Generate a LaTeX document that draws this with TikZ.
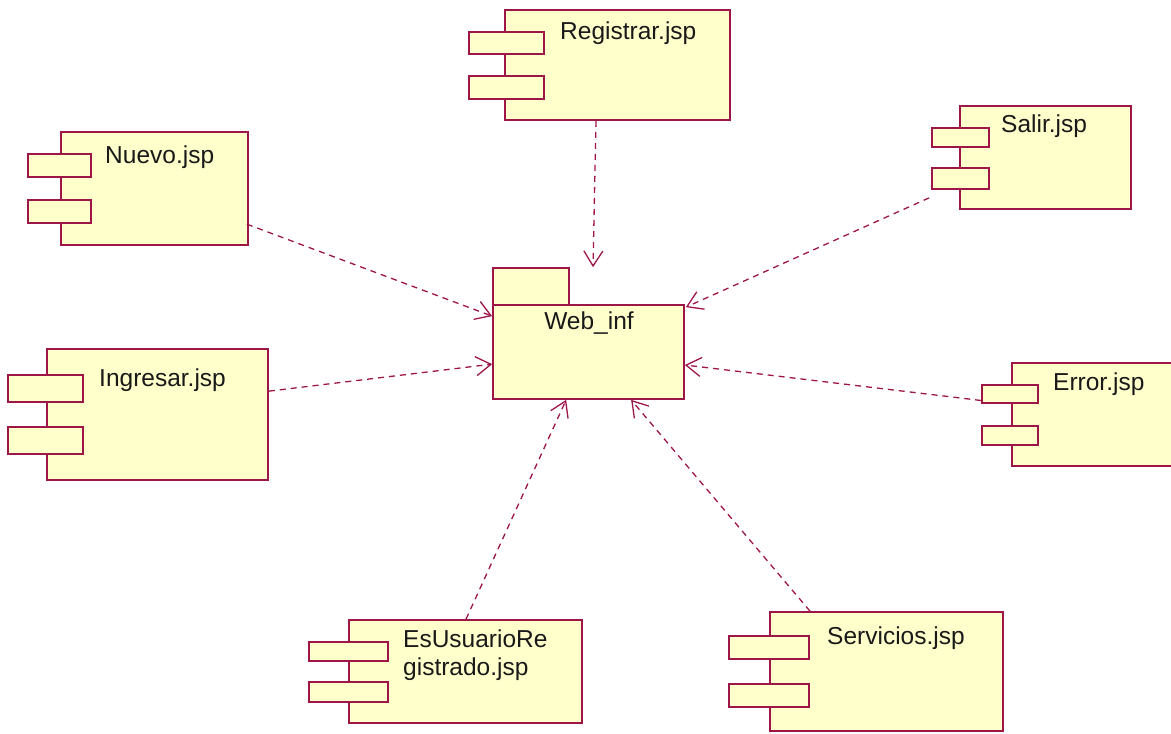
\documentclass[tikz,border=0pt]{standalone}
\usepackage{fontspec}
\setmainfont{Liberation Sans}
\usetikzlibrary{arrows.meta,calc}
\definecolor{rosered}{RGB}{158,22,72}
\definecolor{roseyellow}{RGB}{255,255,204}
\definecolor{inkc}{RGB}{25,25,25}
\tikzset{
  compbox/.style={draw=rosered, fill=roseyellow, line width=1.7pt, inner sep=0pt},
  port/.style={draw=rosered, fill=roseyellow, line width=1.7pt},
  lbl/.style={text=inkc, inner sep=0pt, font=\fontsize{24.5}{29}\selectfont},
  dep/.style={draw=rosered, line width=1.3pt, dash pattern=on 6pt off 5pt,
    -{Straight Barb[length=15pt,width=19pt,line width=1.3pt]}},
}
\begin{document}
\begin{tikzpicture}[x=1pt,y=-1pt]
\useasboundingbox (0,0) rectangle (1171,734);
\clip (0,0) rectangle (1171,734);

% package Web_inf
\draw[port] (493,268) rectangle (569,305);
\node[compbox, minimum width=191pt, minimum height=94pt] (web) at (588.5,352) {};
\node[lbl, anchor=base] at (589,329) {Web\_inf};

% Registrar.jsp
\node[compbox, minimum width=225pt, minimum height=110pt] (reg) at (617.5,65) {};
\draw[port] (469,32) rectangle (544,54);
\draw[port] (469,76) rectangle (544,99);
\node[lbl, anchor=base west] at (560,39) {Registrar.jsp};

% Nuevo.jsp
\node[compbox, minimum width=187pt, minimum height=113pt] (nuevo) at (154.5,188.5) {};
\draw[port] (28,154) rectangle (91,177);
\draw[port] (28,200) rectangle (91,223);
\node[lbl, anchor=base west] at (105,163) {Nuevo.jsp};

% Salir.jsp
\node[compbox, minimum width=171pt, minimum height=103pt] (salir) at (1045.5,157.5) {};
\draw[port] (932,128) rectangle (989,147);
\draw[port] (932,168) rectangle (989,189);
\node[lbl, anchor=base west] at (1001,132) {Salir.jsp};

% Ingresar.jsp
\node[compbox, minimum width=221pt, minimum height=131pt] (ingresar) at (157.5,414.5) {};
\draw[port] (8,375) rectangle (83,402);
\draw[port] (8,427) rectangle (83,454);
\node[lbl, anchor=base west] at (99,386) {Ingresar.jsp};

% Error.jsp
\node[compbox, minimum width=190pt, minimum height=103pt] (error) at (1107,414.5) {};
\draw[port] (982,385) rectangle (1038,403);
\draw[port] (982,426) rectangle (1038,445);
\node[lbl, anchor=base west] at (1053,390) {Error.jsp};

% EsUsuarioRegistrado.jsp
\node[compbox, minimum width=233pt, minimum height=103pt] (esu) at (465.5,671.5) {};
\draw[port] (309,642) rectangle (388,661);
\draw[port] (309,682) rectangle (388,702);
\node[lbl, anchor=base west] at (403,647) {EsUsuarioRe};
\node[lbl, anchor=base west] at (403,675) {gistrado.jsp};

% Servicios.jsp
\node[compbox, minimum width=233pt, minimum height=119pt] (serv) at (886.5,671.5) {};
\draw[port] (729,636) rectangle (809,659);
\draw[port] (729,684) rectangle (809,707);
\node[lbl, anchor=base west] at (827,644) {Servicios.jsp};

% dependencies
\draw[dep] ($(reg.south)+(-21.5,0)$) -- ($(web.north)+(4.5,-37)$);
\draw[dep] ($(nuevo.north east)+(-2,93)$) -- ($(web.north west)+(0,12)$);
\draw[dep] ($(ingresar.north east)+(0,43)$) -- ($(web.north west)+(0,60)$);
\draw[dep] ($(salir.south west)+(-30,-12)$) -- ($(web.north east)+(1,3)$);
\draw[dep] ($(error.west)+(-30,-14)$) -- ($(web.east)+(0,13)$);
\draw[dep] ($(esu.north)+(0.5,0)$) -- ($(web.south west)+(74,0)$);
\draw[dep] ($(serv.north)+(-76.5,0)$) -- ($(web.south west)+(139,0)$);
\end{tikzpicture}
\end{document}
